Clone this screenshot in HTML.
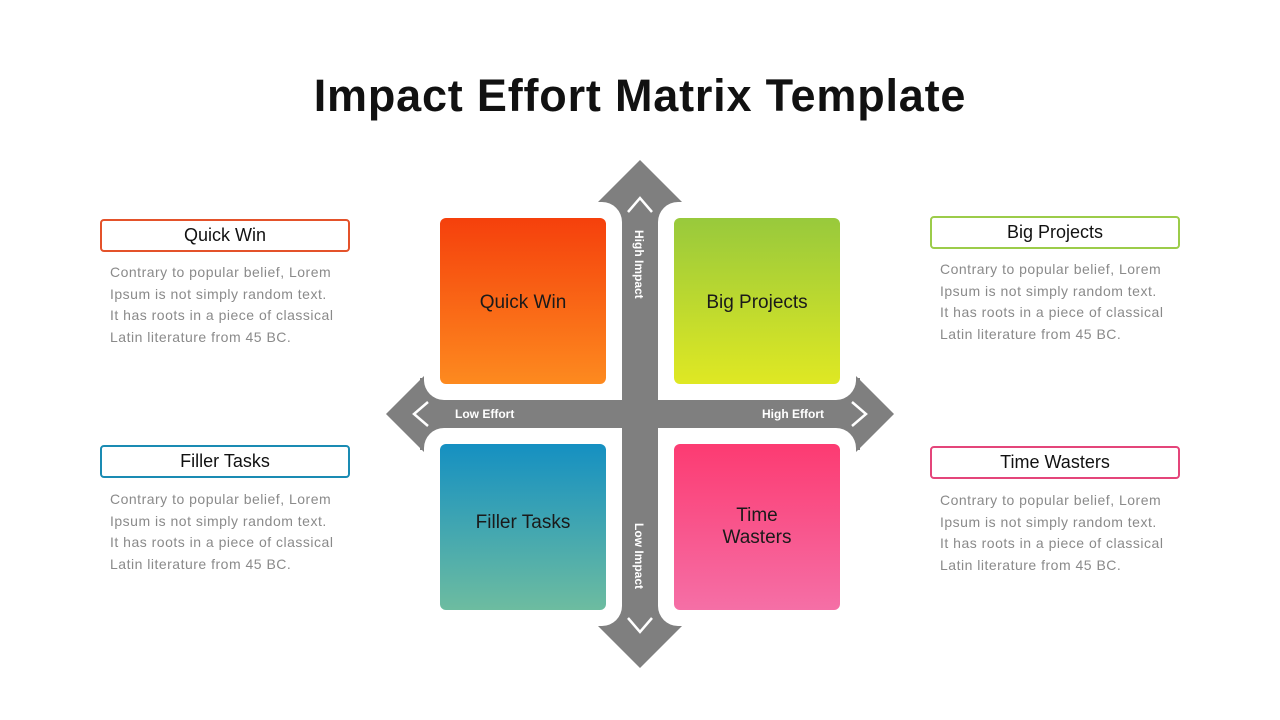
<!DOCTYPE html>
<html><head><meta charset="utf-8">
<style>
body{margin:0;width:1280px;height:720px;background:#fff;font-family:"Liberation Sans",sans-serif;position:relative;overflow:hidden}
.t{position:absolute;left:0;width:1280px;top:70px;text-align:center;font-size:45px;font-weight:bold;color:#111;letter-spacing:0.8px}
.lbl{position:absolute;width:250px;height:33px;border:2.5px solid;border-radius:4px;box-sizing:border-box;text-align:center;line-height:29px;font-size:18px;color:#111}
.desc{position:absolute;width:260px;font-size:14px;letter-spacing:0.5px;line-height:21.5px;color:#8a8a8a;white-space:nowrap}
.sq{position:absolute;width:166px;height:166px;border-radius:6px;display:flex;align-items:center;justify-content:center;text-align:center;font-size:19px;color:#1a1a1a;line-height:22px}
</style></head><body>
<div class="t">Impact Effort Matrix Template</div>

<svg style="position:absolute;left:0;top:0" width="1280" height="720">
<g fill="#7f7f7f">
<rect x="622" y="180" width="36" height="470"/>
<rect x="405" y="400" width="470" height="28"/>
<polygon points="640,160 683,203 597,203"/>
<polygon points="640,668 683,625 597,625"/>
<polygon points="386,414 424,376 424,452"/>
<polygon points="894,414 856,376 856,452"/>
<rect x="600" y="200" width="80" height="26"/>
<rect x="600" y="602" width="80" height="26"/>
<rect x="420" y="378" width="30" height="72"/>
<rect x="830" y="378" width="30" height="72"/>
</g>
<g fill="#fff">
<rect x="424" y="202" width="198" height="198" rx="20"/>
<rect x="658" y="202" width="198" height="198" rx="20"/>
<rect x="424" y="428" width="198" height="198" rx="20"/>
<rect x="658" y="428" width="198" height="198" rx="20"/>
</g>
<g stroke="#fff" stroke-width="2.5" fill="none">
<polyline points="628,212 640,198 652,212"/>
<polyline points="628,618 640,632 652,618"/>
<polyline points="428,402 414,414 428,426"/>
<polyline points="852,402 866,414 852,426"/>
</g>
<g fill="#fff" font-family="Liberation Sans" font-size="12" font-weight="bold">
<text x="455" y="418">Low Effort</text>
<text x="824" y="418" text-anchor="end">High Effort</text>
<text transform="translate(635,230) rotate(90)">High Impact</text>
<text transform="translate(635,523) rotate(90)">Low Impact</text>
</g>
</svg>

<div class="sq" style="left:440px;top:218px;background:linear-gradient(#f5400c,#fd8a1f)"><span style="margin-top:4px">Quick Win</span></div>
<div class="sq" style="left:674px;top:218px;background:linear-gradient(#98c93c,#dfe823)"><span style="margin-top:4px">Big Projects</span></div>
<div class="sq" style="left:440px;top:444px;background:linear-gradient(#1590c2,#6dbca0)"><span style="margin-top:-8px">Filler Tasks</span></div>
<div class="sq" style="left:674px;top:444px;background:linear-gradient(#fc3b72,#f56fa6)"><span style="margin-top:-1px">Time<br>Wasters</span></div>

<div class="lbl" style="left:100px;top:219px;border-color:#e4522a">Quick Win</div>
<div class="desc" style="left:110px;top:262px">Contrary to popular belief, Lorem<br>Ipsum is not simply random text.<br>It has roots in a piece of classical<br>Latin literature from 45 BC.</div>
<div class="lbl" style="left:100px;top:445px;border-color:#1a8bb3">Filler Tasks</div>
<div class="desc" style="left:110px;top:489px">Contrary to popular belief, Lorem<br>Ipsum is not simply random text.<br>It has roots in a piece of classical<br>Latin literature from 45 BC.</div>
<div class="lbl" style="left:930px;top:216px;border-color:#9ccc4a">Big Projects</div>
<div class="desc" style="left:940px;top:259px">Contrary to popular belief, Lorem<br>Ipsum is not simply random text.<br>It has roots in a piece of classical<br>Latin literature from 45 BC.</div>
<div class="lbl" style="left:930px;top:446px;border-color:#e4457a">Time Wasters</div>
<div class="desc" style="left:940px;top:490px">Contrary to popular belief, Lorem<br>Ipsum is not simply random text.<br>It has roots in a piece of classical<br>Latin literature from 45 BC.</div>
</body></html>
